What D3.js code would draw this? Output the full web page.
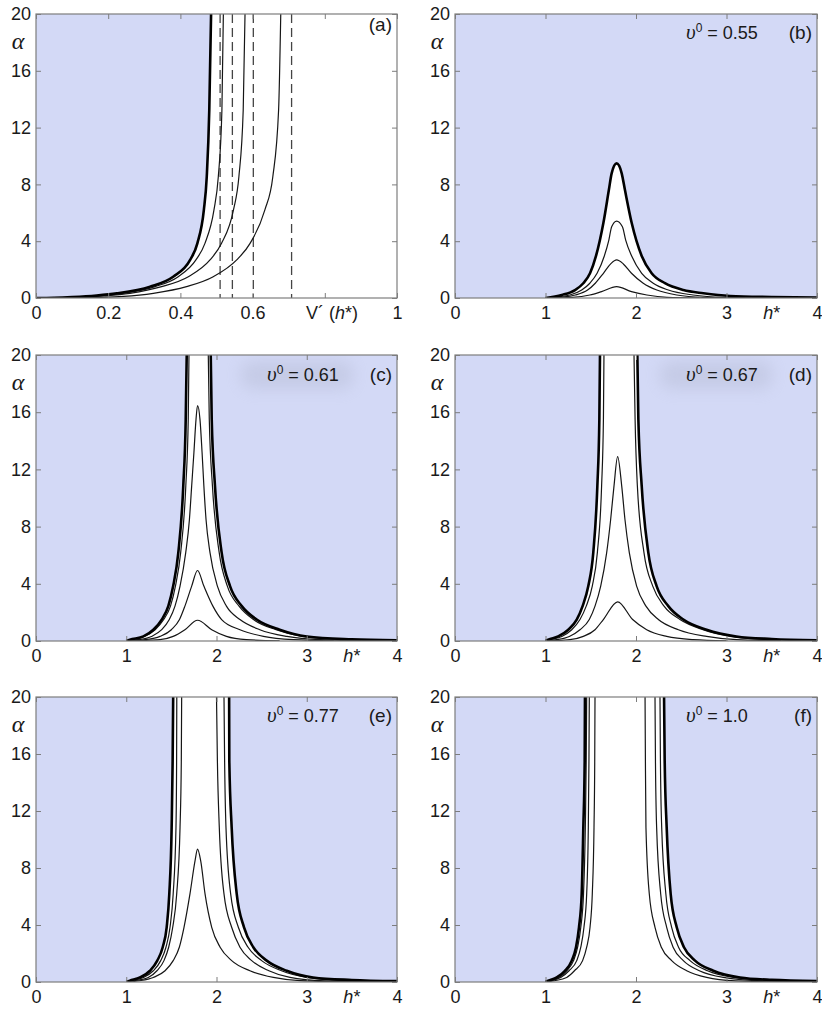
<!DOCTYPE html>
<html><head><meta charset="utf-8">
<script src="https://cdn.jsdelivr.net/npm/d3@7"></script>
<style>body{margin:0;background:#fff}</style></head>
<body>
<svg id="chart" width="822" height="1011"></svg>
<script>
// ---------------- DATA ----------------
const yTicks = [0, 4, 8, 12, 16, 20];
const xTicksA = [0, 0.2, 0.4, 0.6, 0.8, 1];
const xTickLabelsA = ["0", "0.2", "0.4", "0.6", "", "1"];
const xTicksH = [0, 1, 2, 3, 4];
const xTickLabelsH = ["0", "1", "2", "3", "4"];
const panelLetters = ["(a)", "(b)", "(c)", "(d)", "(e)", "(f)"];
const v0Values = [null, "0.55", "0.61", "0.67", "0.77", "1.0"];

// panel (a): alpha vs V'(h*)
const aThick = [[0,0],[0.05,0.02],[0.1,0.07],[0.168,0.18],[0.224,0.33],[0.316,0.8],[0.38,1.5],[0.427,2.68],[0.447,3.85],[0.465,6.2],[0.473,8.54],[0.48,13.24],[0.485,20]];
const aCurve2 = [[0,0],[0.1,0.05],[0.17,0.15],[0.242,0.33],[0.33,0.8],[0.394,1.5],[0.443,2.68],[0.468,3.85],[0.493,6.2],[0.505,8.54],[0.515,13.24],[0.519,20]];
const aCurve3 = [[0,0],[0.12,0.05],[0.19,0.15],[0.26,0.33],[0.348,0.8],[0.422,1.5],[0.482,2.68],[0.514,3.85],[0.547,6.2],[0.562,8.54],[0.574,13.24],[0.579,20]];
const aCurve4 = [[0,0],[0.1,0.01],[0.17,0.04],[0.242,0.11],[0.325,0.33],[0.417,0.8],[0.491,1.5],[0.556,2.68],[0.593,3.85],[0.634,6.2],[0.656,8.54],[0.672,13.24],[0.678,20]];
const aAsymptotes = [0.51, 0.544, 0.602, 0.708];

// panel (b): v0 = 0.55
const bThick = [[1,0],[1.18,0.21],[1.326,0.56],[1.418,1.04],[1.492,1.74],[1.558,2.96],[1.64,5.3],[1.70,7.6],[1.731,8.78],[1.786,9.48],[1.842,8.78],[1.878,7.6],[1.952,5.3],[2.063,2.96],[2.173,1.74],[2.32,1.04],[2.523,0.56],[2.744,0.33],[3.04,0.14],[3.5,0.07],[4,0.03]];
const bCurve2 = [[1,0],[1.08,0.05],[1.27,0.21],[1.40,0.56],[1.49,1.04],[1.57,1.74],[1.65,2.96],[1.70,4.08],[1.731,5.02],[1.786,5.42],[1.85,5.02],[1.886,4.08],[1.952,2.96],[2.063,1.74],[2.19,1.04],[2.357,0.56],[2.63,0.21],[2.96,0.05],[3.5,0.01]];
const bCurve3 = [[1,0],[1.16,0.05],[1.33,0.21],[1.465,0.56],[1.55,1.04],[1.64,1.74],[1.72,2.4],[1.786,2.68],[1.86,2.4],[1.95,1.74],[2.08,1.04],[2.23,0.56],[2.45,0.21],[2.74,0.05],[3.2,0.01]];
const bCurve4 = [[1,0],[1.30,0.05],[1.49,0.21],[1.62,0.45],[1.786,0.80],[1.95,0.45],[2.12,0.21],[2.34,0.05],[2.7,0.01]];

// panel (c): v0 = 0.61   (null separates the two branches that leave the top)
const cThick = [[1,0],[1.04,0.09],[1.19,0.32],[1.30,0.79],[1.393,1.5],[1.466,2.44],[1.52,3.84],[1.577,6.18],[1.632,10.85],[1.659,15.5],[1.67,20], null,
  [1.936,20],[1.947,15.5],[1.983,10.85],[2.057,6.18],[2.15,3.84],[2.28,2.44],[2.445,1.5],[2.70,0.79],[3.0,0.32],[3.5,0.12],[4,0.05]];
const cCurve2 = [[1,0],[1.05,0.09],[1.20,0.32],[1.32,0.79],[1.415,1.5],[1.49,2.44],[1.545,3.84],[1.603,6.18],[1.66,10.85],[1.687,15.5],[1.695,20], null,
  [1.909,20],[1.92,15.5],[1.955,10.85],[2.03,6.18],[2.12,3.84],[2.25,2.44],[2.41,1.5],[2.66,0.79],[2.95,0.32],[3.4,0.1],[4,0.03]];
const cCurve3 = [[1,0],[1.13,0.09],[1.28,0.32],[1.393,0.79],[1.477,1.5],[1.54,2.44],[1.596,3.84],[1.659,6.18],[1.70,8.5],[1.725,10.85],[1.75,13.2],[1.773,15.5],[1.79,16.47],[1.817,15.5],[1.84,13.2],[1.86,10.85],[1.884,8.5],[1.928,6.18],[2.01,3.84],[2.11,2.44],[2.26,1.5],[2.48,0.79],[2.78,0.32],[3.15,0.09],[3.6,0.02]];
const cCurve4 = [[1,0],[1.21,0.09],[1.374,0.32],[1.50,0.79],[1.59,1.5],[1.65,2.44],[1.725,3.84],[1.79,4.93],[1.86,3.84],[1.96,2.44],[2.057,1.5],[2.26,0.79],[2.52,0.32],[2.85,0.09],[3.3,0.01]];
const cCurve5 = [[1,0],[1.1,0.02],[1.374,0.09],[1.52,0.32],[1.65,0.79],[1.79,1.45],[1.947,0.79],[2.11,0.32],[2.33,0.09],[2.7,0.01]];

// panel (d): v0 = 0.67
const dThick = [[1,0],[1.03,0.09],[1.14,0.32],[1.252,0.79],[1.345,1.5],[1.41,2.44],[1.473,3.84],[1.528,6.18],[1.573,10.85],[1.595,15.5],[1.602,20], null,
  [2.015,20],[2.026,15.5],[2.063,10.85],[2.136,6.18],[2.228,3.84],[2.357,2.44],[2.523,1.5],[2.78,0.79],[3.11,0.32],[3.5,0.14],[4,0.05]];
const dCurve2 = [[1,0],[1.05,0.09],[1.18,0.32],[1.29,0.79],[1.381,1.5],[1.45,2.44],[1.517,3.84],[1.573,6.18],[1.62,10.85],[1.64,15.5],[1.646,20], null,
  [1.978,20],[1.99,15.5],[2.015,10.85],[2.088,6.18],[2.185,3.84],[2.31,2.44],[2.486,1.5],[2.74,0.79],[3.04,0.32],[3.45,0.1],[4,0.03]];
const dCurve3 = [[1,0],[1.124,0.09],[1.263,0.32],[1.381,0.79],[1.484,1.5],[1.547,2.44],[1.61,3.84],[1.676,6.18],[1.72,8.5],[1.757,10.85],[1.797,12.89],[1.842,10.85],[1.878,8.5],[1.926,6.18],[2.007,3.84],[2.11,2.44],[2.247,1.5],[2.468,0.79],[2.78,0.32],[3.11,0.09],[3.6,0.02]];
const dCurve4 = [[1,0],[1.27,0.09],[1.418,0.32],[1.547,0.79],[1.639,1.5],[1.797,2.74],[1.963,1.5],[2.118,0.79],[2.339,0.32],[2.63,0.09],[3.0,0.01]];

// panel (e): v0 = 0.77
const eThick = [[1,0],[1.04,0.09],[1.152,0.32],[1.263,0.79],[1.344,1.5],[1.404,2.44],[1.448,3.84],[1.477,6.18],[1.503,10.85],[1.514,15.5],[1.52,20], null,
  [2.14,20],[2.142,15.5],[2.168,10.85],[2.224,6.18],[2.305,3.84],[2.408,2.44],[2.556,1.5],[2.778,0.79],[3.07,0.32],[3.5,0.14],[4,0.06]];
const eCurve2 = [[1,0],[1.06,0.09],[1.19,0.32],[1.30,0.79],[1.382,1.5],[1.44,2.44],[1.485,3.84],[1.52,6.18],[1.551,10.85],[1.558,15.5],[1.56,20], null,
  [2.083,20],[2.09,15.5],[2.105,10.85],[2.157,6.18],[2.242,3.84],[2.35,2.44],[2.5,1.5],[2.72,0.79],[3.0,0.32],[3.4,0.1],[4,0.03]];
const eCurve3 = [[1,0],[1.09,0.09],[1.244,0.32],[1.34,0.79],[1.418,1.5],[1.47,2.44],[1.515,3.84],[1.559,6.18],[1.596,10.85],[1.61,15.5],[1.614,20], null,
  [2.0,20],[2.01,15.5],[2.031,10.85],[2.083,6.18],[2.168,3.84],[2.26,2.44],[2.39,1.5],[2.58,0.79],[2.814,0.32],[3.2,0.08],[3.8,0.01]];
const eCurve4 = [[1,0],[1.15,0.09],[1.30,0.32],[1.43,0.79],[1.52,1.5],[1.588,2.44],[1.64,3.84],[1.706,6.18],[1.762,8.5],[1.79,9.33],[1.825,8.5],[1.873,6.18],[1.947,3.84],[2.04,2.44],[2.168,1.5],[2.37,0.79],[2.63,0.32],[2.925,0.09],[3.4,0.01]];

// panel (f): v0 = 1.0
const fThick = [[1,0],[1.03,0.09],[1.124,0.32],[1.215,0.79],[1.29,1.5],[1.337,2.44],[1.37,3.84],[1.40,6.18],[1.418,10.85],[1.433,15.5],[1.436,20], null,
  [2.31,20],[2.317,15.5],[2.339,10.85],[2.383,6.18],[2.45,3.84],[2.53,2.44],[2.652,1.5],[2.854,0.79],[3.15,0.32],[3.5,0.15],[4,0.07]];
const fCurve2 = [[1,0],[1.05,0.09],[1.15,0.32],[1.235,0.79],[1.31,1.5],[1.355,2.44],[1.39,3.84],[1.42,6.18],[1.44,10.85],[1.45,15.5],[1.455,20], null,
  [2.265,20],[2.27,15.5],[2.284,10.85],[2.33,6.18],[2.394,3.84],[2.47,2.44],[2.597,1.5],[2.79,0.79],[3.075,0.32],[3.5,0.1],[4,0.04]];
const fCurve3 = [[1,0],[1.07,0.09],[1.168,0.32],[1.26,0.79],[1.345,1.5],[1.39,2.44],[1.425,3.84],[1.455,6.18],[1.473,10.85],[1.48,15.5],[1.484,20], null,
  [2.21,20],[2.215,15.5],[2.228,10.85],[2.273,6.18],[2.339,3.84],[2.41,2.44],[2.523,1.5],[2.7,0.79],[2.965,0.32],[3.4,0.08],[4,0.02]];
const fCurve4 = [[1,0],[1.1,0.09],[1.234,0.32],[1.32,0.79],[1.41,1.5],[1.455,2.44],[1.492,3.84],[1.517,6.18],[1.536,10.85],[1.544,15.5],[1.547,20], null,
  [2.1,20],[2.104,15.5],[2.11,10.85],[2.147,6.18],[2.21,3.84],[2.28,2.44],[2.394,1.5],[2.56,0.79],[2.78,0.32],[3.1,0.08],[3.6,0.01]];

// ---------------- DRAWING ----------------
const LAV = "#d3d9f6";
const FRAME = "#7d7d7d";
const SANS = "'Liberation Sans', Arial, Helvetica, sans-serif";
const SERIF = "'Liberation Serif', 'Times New Roman', serif";
const FS = 18;
const svg = d3.select("#chart");
const defs = svg.append("defs");
const blur = defs.append("filter").attr("id", "soft").attr("x", "-50%").attr("y", "-100%").attr("width", "200%").attr("height", "300%");
blur.append("feGaussianBlur").attr("stdDeviation", 8);

const specs = [
  {key:"a", left:36,  top:14,  w:361, h:284, xDomain:[0,1], xTicks:xTicksA, xLabels:xTickLabelsA, curves:[aThick,aCurve2,aCurve3,aCurve4], dashed:aAsymptotes, letterDy:17},
  {key:"b", left:455, top:14,  w:362, h:284, xDomain:[0,4], xTicks:xTicksH, xLabels:xTickLabelsH, curves:[bThick,bCurve2,bCurve3,bCurve4], letterDy:25},
  {key:"c", left:36,  top:355, w:361, h:286, xDomain:[0,4], xTicks:xTicksH, xLabels:xTickLabelsH, curves:[cThick,cCurve2,cCurve3,cCurve4,cCurve5], letterDy:26, shadow:true},
  {key:"d", left:455, top:355, w:362, h:286, xDomain:[0,4], xTicks:xTicksH, xLabels:xTickLabelsH, curves:[dThick,dCurve2,dCurve3,dCurve4], letterDy:26, shadow:true},
  {key:"e", left:36,  top:697, w:361, h:285, xDomain:[0,4], xTicks:xTicksH, xLabels:xTickLabelsH, curves:[eThick,eCurve2,eCurve3,eCurve4], letterDy:25},
  {key:"f", left:455, top:697, w:362, h:285, xDomain:[0,4], xTicks:xTicksH, xLabels:xTickLabelsH, curves:[fThick,fCurve2,fCurve3,fCurve4], letterDy:25}
];

function splitSegments(pts) {
  const segs = []; let cur = [];
  pts.forEach(p => { if (p === null) { if (cur.length) segs.push(cur); cur = []; } else cur.push(p); });
  if (cur.length) segs.push(cur);
  return segs;
}

specs.forEach((p, idx) => {
  const g = svg.append("g").attr("transform", `translate(${p.left},${p.top})`);
  const x = d3.scaleLinear().domain(p.xDomain).range([0, p.w]);
  const y = d3.scaleLinear().domain([0, 20]).range([p.h, 0]);
  const clipId = "clip-" + p.key;
  defs.append("clipPath").attr("id", clipId).append("rect").attr("width", p.w).attr("height", p.h);
  const plot = g.append("g").attr("clip-path", `url(#${clipId})`);

  plot.append("rect").attr("width", p.w).attr("height", p.h).attr("fill", LAV);
  if (p.shadow) {
    plot.append("rect").attr("x", 205).attr("y", 6).attr("width", 112).attr("height", 28).attr("rx", 10)
      .attr("fill", "#a6abc2").attr("opacity", 0.3).attr("filter", "url(#soft)");
  }

  // white (stable) region under the thick boundary curve
  const area = d3.area().x(d => x(d[0])).y0(y(0)).y1(d => y(d[1])).curve(d3.curveMonotoneX);
  const segs = splitSegments(p.curves[0]);
  segs.forEach((s, i) => {
    plot.append("path").attr("d", area(s)).attr("fill", "#fff");
    const last = s[s.length - 1];
    if (last[1] >= 20) {
      const nx = i < segs.length - 1 ? segs[i + 1][0][0] : p.xDomain[1];
      const x0 = x(last[0]) - 1, x1 = (i < segs.length - 1 ? x(nx) + 1 : x(nx));
      plot.append("rect").attr("x", x0).attr("y", 0).attr("width", x1 - x0).attr("height", p.h).attr("fill", "#fff");
    }
  });

  // dashed asymptotes (panel a)
  if (p.dashed) {
    plot.selectAll("line.asym").data(p.dashed).join("line").attr("class", "asym")
      .attr("x1", d => x(d)).attr("x2", d => x(d)).attr("y1", y(20)).attr("y2", y(0))
      .attr("stroke", "#444").attr("stroke-width", 1.3).attr("stroke-dasharray", "9,5");
  }

  const line = d3.line().x(d => x(d[0])).y(d => y(d[1])).curve(d3.curveMonotoneX);
  // thin curves first, thick boundary last
  p.curves.slice(1).forEach(c => {
    splitSegments(c).forEach(s => plot.append("path").attr("d", line(s)).attr("fill", "none")
      .attr("stroke", "#161616").attr("stroke-width", 1.2));
  });
  splitSegments(p.curves[0]).forEach(s => plot.append("path").attr("d", line(s)).attr("fill", "none")
    .attr("stroke", "#000").attr("stroke-width", 2.6).attr("stroke-linejoin", "round"));

  // axes with inward ticks on all four sides
  const styleAxis = sel => {
    sel.select(".domain").remove();
    sel.selectAll(".tick line").attr("stroke", FRAME).attr("stroke-width", 1);
    sel.selectAll(".tick text").attr("fill", "#1a1a1a");
    sel.attr("font-family", SANS).attr("font-size", FS);
  };
  g.append("g").attr("transform", `translate(0,${p.h})`)
    .call(d3.axisBottom(x).tickValues(p.xTicks).tickFormat((d, i) => p.xLabels[i]).tickSizeInner(-5).tickSizeOuter(0).tickPadding(8))
    .call(styleAxis);
  g.append("g")
    .call(d3.axisTop(x).tickValues(p.xTicks).tickFormat("").tickSizeInner(-5).tickSizeOuter(0))
    .call(styleAxis);
  g.append("g")
    .call(d3.axisLeft(y).tickValues(yTicks).tickSizeInner(-5).tickSizeOuter(0).tickPadding(5))
    .call(styleAxis);
  g.append("g").attr("transform", `translate(${p.w},0)`)
    .call(d3.axisRight(y).tickValues(yTicks).tickFormat("").tickSizeInner(-5).tickSizeOuter(0))
    .call(styleAxis);

  g.append("rect").attr("width", p.w).attr("height", p.h).attr("fill", "none")
    .attr("stroke", FRAME).attr("stroke-width", 1.2);

  // x axis name
  const xl = g.append("text").attr("y", p.h + 8).attr("dy", "0.71em").attr("text-anchor", "middle")
    .attr("font-family", SANS).attr("font-size", FS).attr("fill", "#1a1a1a");
  if (p.key === "a") {
    xl.attr("x", x(0.82));
    xl.append("tspan").text("V\u00B4 (");
    xl.append("tspan").attr("font-style", "italic").text("h");
    xl.append("tspan").text("*)");
  } else {
    xl.attr("x", x(3.5));
    xl.append("tspan").attr("font-style", "italic").text("h");
    xl.append("tspan").text("*");
  }

  // y axis name
  g.append("text").attr("x", -18).attr("y", 35).attr("text-anchor", "middle")
    .attr("font-family", SERIF).attr("font-style", "italic").attr("font-size", 24).attr("fill", "#1a1a1a").text("\u03B1");

  // panel letter
  g.append("text").attr("x", p.w - 5).attr("y", p.letterDy).attr("text-anchor", "end")
    .attr("font-family", SANS).attr("font-size", FS + 1).attr("fill", "#1a1a1a").text(panelLetters[idx]);

  // v0 label
  if (v0Values[idx]) {
    const t = g.append("text").attr("x", 231).attr("y", p.letterDy).attr("fill", "#1a1a1a")
      .attr("font-family", SANS).attr("font-size", FS);
    t.append("tspan").attr("font-family", SERIF).attr("font-style", "italic").attr("font-size", 21).text("\u03C5");
    t.append("tspan").attr("font-size", 12).attr("dy", -7).text("0");
    t.append("tspan").attr("dy", 7).text(" = " + v0Values[idx]);
  }
});
</script>
</body></html>
